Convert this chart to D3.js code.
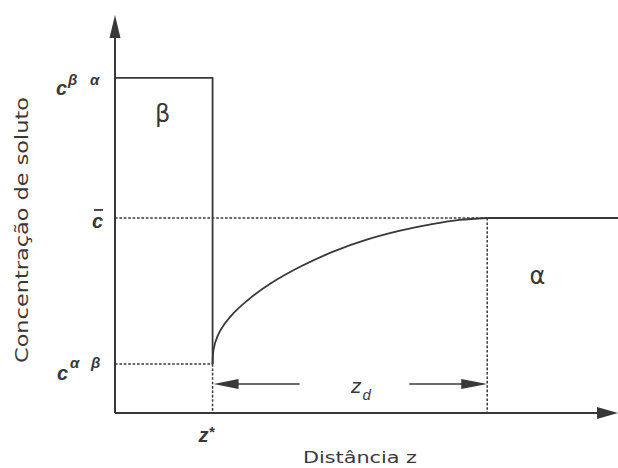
<!DOCTYPE html>
<html>
<head>
<meta charset="utf-8">
<script src="https://cdn.jsdelivr.net/npm/d3@7/dist/d3.min.js"></script>
<style>
  html, body { margin: 0; padding: 0; background: #fff; }
  svg { display: block; }
</style>
</head>
<body>
<svg id="chart" width="618" height="468"></svg>
<script>
// Solute concentration profile across the β / α interface

// distance z (arbitrary units) and concentration c (arbitrary units)
const zInterface = 19.4;          // z*
const zDiffusion = 74.0;          // z* + z_d
const cBetaAlpha = 84.2;          // c^βα
const cBar = 49.0;                // c̄ (far-field)
const cAlphaBeta = 12.3;          // c^αβ

// diffusion profile in α, from the interface to the far field
const profileZ = [19.4, 19.6, 20.4, 21.8, 23.8, 27.0, 31.0, 36.9, 43.5, 50.2, 56.7, 63.3, 68.5, 74.0];
const profileC = [12.3, 16.0, 19.4, 22.4, 25.4, 29.0, 32.6, 36.8, 40.6, 43.6, 45.8, 47.5, 48.5, 49.0];

const phaseLabels = ["β", "α"];
const phaseZ = [9.5, 84.0];
const phaseC = [73.0, 32.5];

const svg = d3.select("#chart");
const ink = "#383838";

const x = d3.scaleLinear().domain([0, 100]).range([115, 618]);
const y = d3.scaleLinear().domain([0, 100]).range([413, 15]);

const g = svg.append("g");

// dotted guide lines
const dotted = [
  [[0, cBar], [zDiffusion, cBar]],
  [[0, cAlphaBeta], [zInterface, cAlphaBeta]],
  [[zInterface, cAlphaBeta], [zInterface, 0]],
  [[zDiffusion, cBar], [zDiffusion, 0]]
];
const line = d3.line().x(d => x(d[0])).y(d => y(d[1]));
g.selectAll("path.guide").data(dotted).join("path")
  .attr("class", "guide")
  .attr("d", line)
  .attr("fill", "none")
  .attr("stroke", ink)
  .attr("stroke-width", 1.5)
  .attr("stroke-dasharray", "2.6,1.8");

// β phase: constant c^βα up to the interface, then drop to c^αβ
const betaStep = [[0, cBetaAlpha], [zInterface, cBetaAlpha], [zInterface, cAlphaBeta]];
g.append("path")
  .attr("d", line(betaStep))
  .attr("fill", "none").attr("stroke", ink).attr("stroke-width", 1.8);

// α phase: diffusion profile rising to c̄
const profile = profileZ.map((z, i) => [z, profileC[i]]);
g.append("path")
  .attr("d", d3.line().x(d => x(d[0])).y(d => y(d[1])).curve(d3.curveCatmullRom.alpha(0.5))(profile))
  .attr("fill", "none").attr("stroke", ink).attr("stroke-width", 1.8);

// far-field level
g.append("path")
  .attr("d", line([[zDiffusion, cBar], [100, cBar]]))
  .attr("fill", "none").attr("stroke", ink).attr("stroke-width", 1.8);

// axes with arrowheads
g.append("path")
  .attr("d", line([[0, 0], [0, 95]]))
  .attr("stroke", ink).attr("stroke-width", 2);
g.append("path")
  .attr("d", line([[0, 0], [97, 0]]))
  .attr("stroke", ink).attr("stroke-width", 2);
g.append("path")
  .attr("d", `M${x(0)},${y(100)} L${x(0) - 5.5},${y(100) + 23} L${x(0) + 5.5},${y(100) + 23} Z`)
  .attr("fill", ink);
g.append("path")
  .attr("d", `M${x(100)},${y(0)} L${x(100) - 21},${y(0) - 6} L${x(100) - 21},${y(0) + 6} Z`)
  .attr("fill", ink);

// z_d dimension arrows
const yA = 384;
g.append("path")
  .attr("d", `M${x(zInterface) + 24},${yA} L${x(36.7)},${yA}`)
  .attr("stroke", ink).attr("stroke-width", 1.6);
g.append("path")
  .attr("d", `M${x(zInterface) + 1},${yA} L${x(zInterface) + 26},${yA - 5} L${x(zInterface) + 26},${yA + 5} Z`)
  .attr("fill", ink);
g.append("path")
  .attr("d", `M${x(58.5)},${yA} L${x(zDiffusion) - 24},${yA}`)
  .attr("stroke", ink).attr("stroke-width", 1.6);
g.append("path")
  .attr("d", `M${x(zDiffusion)},${yA} L${x(zDiffusion) - 26},${yA - 5} L${x(zDiffusion) - 26},${yA + 5} Z`)
  .attr("fill", ink);

// phase labels
g.selectAll("text.phase").data(phaseLabels).join("text")
  .attr("class", "phase")
  .attr("x", (d, i) => x(phaseZ[i]))
  .attr("y", (d, i) => y(phaseC[i]))
  .attr("text-anchor", "middle")
  .attr("font-family", "DejaVu Sans, sans-serif")
  .attr("font-size", 24)
  .attr("fill", ink)
  .text(d => d);

// level labels
const lab = "Liberation Sans, Arial, sans-serif";
function levelLabel(xc, yb, sup1, sup2, sx1, sx2, sy) {
  const t = g.append("g").attr("font-family", lab).attr("fill", ink);
  t.append("text").attr("x", xc).attr("y", yb)
    .attr("font-size", 20).attr("font-style", "italic").attr("font-weight", "bold").text("c");
  t.append("text").attr("x", sx1).attr("y", sy)
    .attr("font-size", 15).attr("font-style", "italic").attr("font-weight", "bold").text(sup1);
  t.append("text").attr("x", sx2).attr("y", sy)
    .attr("font-size", 15).attr("font-style", "italic").attr("font-weight", "bold").text(sup2);
}
levelLabel(56, y(cBetaAlpha) + 17, "β", "α", 68, 90, y(cBetaAlpha) + 7);
levelLabel(57, y(cAlphaBeta) + 16, "α", "β", 70, 91, y(cAlphaBeta) + 4);

// c̄
g.append("text").attr("x", 92).attr("y", y(cBar) + 10)
  .attr("font-family", lab).attr("font-size", 20)
  .attr("font-style", "italic").attr("font-weight", "bold").attr("fill", ink).text("c");
g.append("path").attr("d", `M94,${y(cBar) - 8} L103,${y(cBar) - 8}`)
  .attr("stroke", ink).attr("stroke-width", 1.8);

// z* tick label
const zt = g.append("text").attr("x", x(zInterface) - 14).attr("y", 442)
  .attr("font-family", lab).attr("font-style", "italic").attr("font-weight", "bold")
  .attr("fill", ink);
zt.append("tspan").attr("font-size", 20).text("z");
zt.append("tspan").attr("font-size", 15).attr("dy", -5).text("*");

// z_d
const zd = g.append("text").attr("x", 351).attr("y", 393)
  .attr("font-family", lab).attr("font-style", "italic").attr("fill", ink);
zd.append("tspan").attr("font-size", 21).text("z");
zd.append("tspan").attr("font-size", 15).attr("dx", 1).attr("dy", 7).text("d");

// axis titles
svg.append("text")
  .attr("x", 360).attr("y", 463)
  .attr("text-anchor", "middle")
  .attr("font-family", "DejaVu Sans, sans-serif")
  .attr("font-size", 16)
  .attr("textLength", 114).attr("lengthAdjust", "spacingAndGlyphs")
  .attr("fill", ink)
  .text("Distância z");

svg.append("text")
  .attr("transform", "translate(28,230) rotate(-90)")
  .attr("text-anchor", "middle")
  .attr("font-family", "DejaVu Sans, sans-serif")
  .attr("font-size", 18)
  .attr("textLength", 266).attr("lengthAdjust", "spacingAndGlyphs")
  .attr("fill", ink)
  .text("Concentração de soluto");
</script>
</body>
</html>
